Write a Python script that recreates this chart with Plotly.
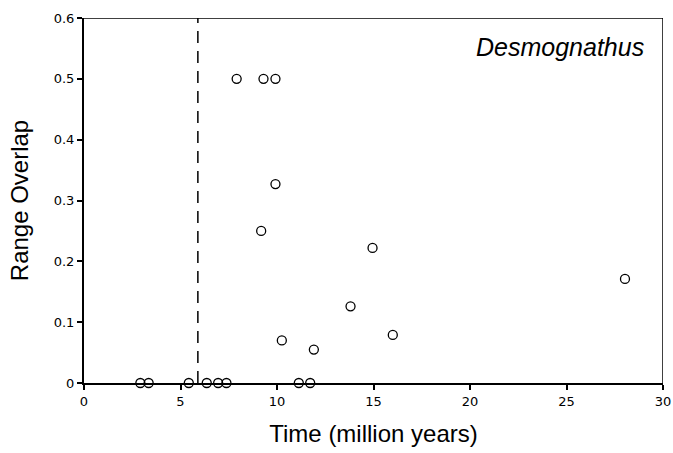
import plotly.graph_objects as go

time_myr = [2.92, 3.35, 5.43, 6.36, 6.95, 7.38, 11.13, 11.72,
            7.91, 9.30, 9.92, 9.92, 9.18, 10.25, 11.91, 13.81, 14.95, 16.0, 28.03]
range_overlap = [0, 0, 0, 0, 0, 0, 0, 0,
                 0.5, 0.5, 0.5, 0.327, 0.25, 0.070, 0.055, 0.126, 0.222, 0.079, 0.171]
divider_x = 5.9
x_ticks = [0, 5, 10, 15, 20, 25, 30]
y_ticks = [0, 0.1, 0.2, 0.3, 0.4, 0.5, 0.6]
y_ticktext = ["0", "0.1", "0.2", "0.3", "0.4", "0.5", "0.6"]

W, H = 673, 453
L, R, T, B = 84, 10, 18, 70
pw, ph = W - L - R, H - T - B

fig = go.Figure()
fig.add_trace(go.Scatter(
    x=time_myr, y=range_overlap, mode="markers",
    marker=dict(symbol="circle-open", size=9, color="black", line=dict(width=1.3)),
    cliponaxis=False, showlegend=False,
))

fig.add_shape(type="line", x0=divider_x, x1=divider_x, y0=0, y1=0.6,
              xref="x", yref="y", line=dict(color="black", width=1.5, dash="12px,8px"))
# top and right frame lines
fig.add_shape(type="line", x0=0, x1=30, y0=0.6, y1=0.6, xref="x", yref="y",
              line=dict(color="black", width=1.5))
fig.add_shape(type="line", x0=30, x1=30, y0=0, y1=0.6, xref="x", yref="y",
              line=dict(color="black", width=1.5))

fig.add_annotation(text="<i>Desmognathus</i>",
                   x=(646 - L) / pw, y=(H - B - 47) / ph, xref="paper", yref="paper",
                   xanchor="right", yanchor="middle", showarrow=False,
                   font=dict(family="Liberation Sans, Arial", size=25, color="black"))

fig.update_layout(
    width=W, height=H,
    margin=dict(l=L, r=R, t=T, b=B),
    paper_bgcolor="white", plot_bgcolor="white",
    font=dict(family="DejaVu Sans, Verdana", size=13, color="black"),
    xaxis=dict(range=[0, 30], tickvals=x_ticks, ticks="outside", ticklen=5, tickwidth=1.5,
               tickcolor="black", showline=True, linewidth=2, linecolor="black",
               showgrid=False, zeroline=False, automargin=False,
               tickfont=dict(family="DejaVu Sans, Verdana", size=13),
               title=dict(text="Time (million years)", standoff=18,
                          font=dict(family="Liberation Sans, Arial", size=24))),
    yaxis=dict(range=[0, 0.6], tickvals=y_ticks, ticktext=y_ticktext, ticks="outside",
               ticklen=5, tickwidth=1.5, tickcolor="black", showline=True, linewidth=2,
               linecolor="black", showgrid=False, zeroline=False, automargin=False,
               tickfont=dict(family="DejaVu Sans, Verdana", size=13),
               title=dict(text="Range Overlap", standoff=18,
                          font=dict(family="Liberation Sans, Arial", size=24))),
)

fig.write_html("out.html", config={"displayModeBar": False},
               post_script="document.body.style.margin='0';document.body.style.overflow='hidden';")
